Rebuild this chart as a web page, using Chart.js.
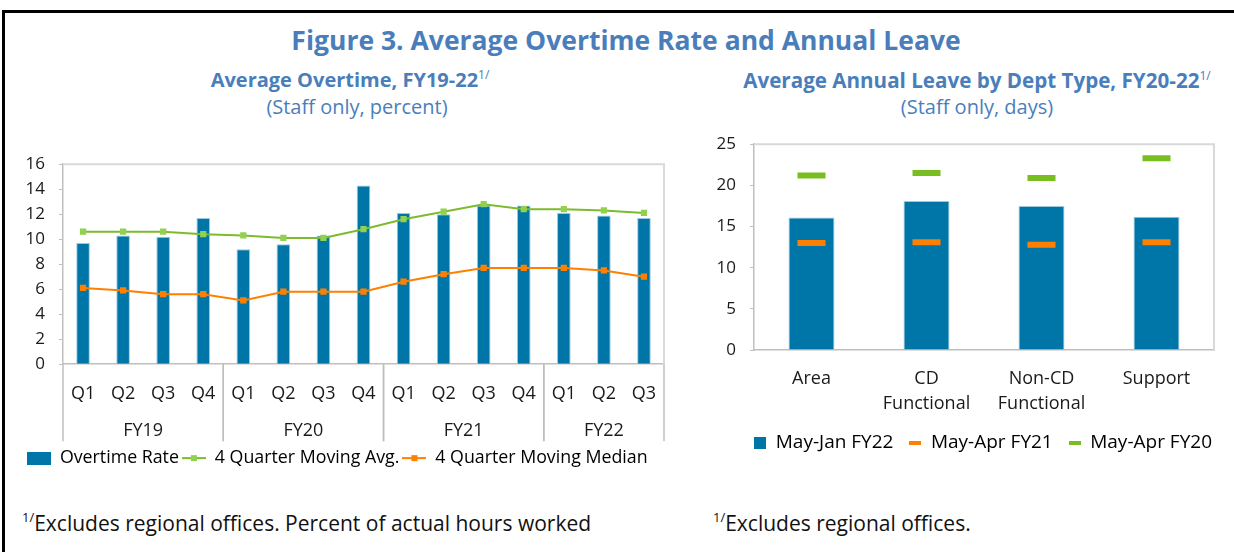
<!DOCTYPE html>
<html>
<head>
<meta charset="utf-8">
<script src="https://cdn.jsdelivr.net/npm/chart.js@4.4.1/dist/chart.umd.min.js"></script>
<style>
  body { margin: 0; width: 1234px; height: 552px; background: #fff; overflow: hidden; font-family: "Open Sans", sans-serif; position: relative; }
  .frame { position: absolute; left: 2px; top: 10px; width: 1240px; height: 560px; border-top: 3px solid #000; border-left: 3px solid #000; }
  .txt { position: absolute; text-align: center; color: #4a7ebb; white-space: nowrap; }
  .main { left: 0; width: 1252px; top: 22px; font-size: 26.5px; font-weight: bold; }
  .sub { font-size: 20px; font-weight: bold; top: 66px; }
  .unit { font-size: 20px; top: 93px; }
  sup { font-size: 12px; vertical-align: 8px; font-weight: normal; }
  .note { position: absolute; top: 508px; font-size: 21px; color: #111; white-space: nowrap; }
  .note sup { font-size: 13px; vertical-align: 9px; }
  .box { position: absolute; }
</style>
</head>
<body>
<div class="frame"></div>
<div class="txt main">Figure 3. Average Overtime Rate and Annual Leave</div>
<div class="txt sub" style="left:50px;width:600px;">Average Overtime, FY19-22<sup>1/</sup></div>
<div class="txt unit" style="left:57px;width:600px;">(Staff only, percent)</div>
<div class="txt sub" style="left:677px;width:600px;font-size:20.6px;">Average Annual Leave by Dept Type, FY20-22<sup>1/</sup></div>
<div class="txt unit" style="left:677px;width:600px;">(Staff only, days)</div>
<div class="box" style="left:20px;top:140px;"><canvas id="overtime" width="660" height="340"></canvas></div>
<div class="box" style="left:700px;top:120px;"><canvas id="leave" width="534" height="380"></canvas></div>
<div class="note" style="left:22px;"><sup>1/</sup>Excludes regional offices. Percent of actual hours worked</div>
<div class="note" style="left:713px;"><sup>1/</sup>Excludes regional offices.</div>
<script>
const quarters = ['Q1', 'Q2', 'Q3', 'Q4', 'Q1', 'Q2', 'Q3', 'Q4', 'Q1', 'Q2', 'Q3', 'Q4', 'Q1', 'Q2', 'Q3'];
const fiscalYears = ['FY19', 'FY20', 'FY21', 'FY22'];
const quartersPerYear = [4, 4, 4, 3];
const overtimeRate = [9.7, 10.3, 10.2, 11.7, 9.2, 9.6, 10.3, 14.3, 12.1, 12.0, 12.7, 12.7, 12.1, 11.9, 11.7];
const movingAvg = [10.6, 10.6, 10.6, 10.4, 10.3, 10.1, 10.1, 10.8, 11.6, 12.2, 12.8, 12.4, 12.4, 12.3, 12.1];
const movingMedian = [6.1, 5.9, 5.6, 5.6, 5.1, 5.8, 5.8, 5.8, 6.6, 7.2, 7.7, 7.7, 7.7, 7.5, 7.0];
const overtimeLegend = ['Overtime Rate', '4 Quarter Moving Avg.', '4 Quarter Moving Median'];

const deptTypes = [['Area'], ['CD', 'Functional'], ['Non-CD', 'Functional'], ['Support']];
const leaveFY22 = [16.1, 18.1, 17.5, 16.2];
const leaveFY21 = [13.0, 13.1, 12.8, 13.1];
const leaveFY20 = [21.2, 21.5, 20.9, 23.3];
const leaveLegend = ['May-Jan FY22', 'May-Apr FY21', 'May-Apr FY20'];

const blue = '#0076a8';
const orange = '#ff8000';
const greenLine = '#7cbc2c';
const greenMark = '#92d050';
const greenDash = '#78be20';
const axisGray = '#bfbfbf';
const font = "'Open Sans', sans-serif";

Chart.defaults.font.family = font;
Chart.defaults.font.size = 17;
Chart.defaults.color = '#1a1a1a';

// little legend icons
function barIcon(w, h, color) {
    const c = document.createElement('canvas');
    c.width = w; c.height = h;
    const g = c.getContext('2d');
    g.fillStyle = color;
    g.fillRect(0, 0, w, h);
    return c;
}
function lineIcon(w, lineColor, markColor) {
    const c = document.createElement('canvas');
    c.width = w; c.height = 8;
    const g = c.getContext('2d');
    g.strokeStyle = lineColor;
    g.lineWidth = 2;
    g.beginPath(); g.moveTo(0, 4); g.lineTo(w, 4); g.stroke();
    g.fillStyle = markColor;
    g.fillRect(w / 2 - 3, 1, 6, 6);
    return c;
}
function dashIcon(w, color) {
    const c = document.createElement('canvas');
    c.width = w; c.height = 4;
    const g = c.getContext('2d');
    g.fillStyle = color;
    g.fillRect(0, 0, w, 4);
    return c;
}

// light frame on top and right of the plot
const plotFrame = {
    id: 'plotFrame',
    beforeDatasetsDraw(chart) {
        const {ctx, chartArea: a} = chart;
        ctx.save();
        ctx.strokeStyle = '#d9d9d9';
        ctx.lineWidth = 2;
        ctx.beginPath();
        ctx.moveTo(a.left, a.top);
        ctx.lineTo(a.right, a.top);
        ctx.lineTo(a.right, a.bottom);
        ctx.stroke();
        ctx.restore();
    }
};

// second row of the category axis: fiscal years
const yearGroups = {
    id: 'yearGroups',
    afterDraw(chart) {
        const {ctx, chartArea: a} = chart;
        const x = chart.scales.x;
        const half = (x.getPixelForValue(1) - x.getPixelForValue(0)) / 2;
        ctx.save();
        ctx.strokeStyle = axisGray;
        ctx.lineWidth = 1.5;
        ctx.fillStyle = '#1a1a1a';
        ctx.font = `18px ${font}`;
        ctx.textAlign = 'center';
        ctx.textBaseline = 'middle';
        let start = 0;
        quartersPerYear.forEach((n, i) => {
            const l = x.getPixelForValue(start) - half;
            const r = x.getPixelForValue(start + n - 1) + half;
            for (const px of [l, r]) {
                ctx.beginPath();
                ctx.moveTo(px, a.bottom);
                ctx.lineTo(px, a.bottom + 77);
                ctx.stroke();
            }
            ctx.fillText(fiscalYears[i], (l + r) / 2, a.bottom + 67);
            start += n;
        });
        ctx.restore();
    }
};

new Chart(document.getElementById('overtime'), {
    type: 'bar',
    data: {
        labels: quarters,
        datasets: [
            {label: overtimeLegend[0], data: overtimeRate, backgroundColor: blue, borderColor: '#9cc9e0', borderWidth: 1, barPercentage: 0.34, categoryPercentage: 1, order: 2},
            {type: 'line', label: overtimeLegend[1], data: movingAvg, borderColor: greenLine, borderWidth: 2, pointStyle: 'rect', pointRadius: 4.4, pointBackgroundColor: greenMark, pointBorderWidth: 0, order: 1},
            {type: 'line', label: overtimeLegend[2], data: movingMedian, borderColor: orange, borderWidth: 2, pointStyle: 'rect', pointRadius: 4.4, pointBackgroundColor: orange, pointBorderWidth: 0, order: 0},
        ],
    },
    options: {
        responsive: false,
        animation: false,
        devicePixelRatio: 1,
        layout: {padding: {left: 4, right: 16, top: 22, bottom: 3}},
        plugins: {
            tooltip: {enabled: false},
            legend: {
                position: 'bottom',
                align: 'start',
                labels: {
                    usePointStyle: true,
                    pointStyleWidth: 24,
                    padding: 3,
                    font: {size: 17.8},
                    generateLabels: () => [
                        {text: overtimeLegend[0], pointStyle: barIcon(24, 13, blue), lineWidth: 0, hidden: false, datasetIndex: 0},
                        {text: overtimeLegend[1], pointStyle: lineIcon(24, greenLine, greenMark), lineWidth: 0, hidden: false, datasetIndex: 1},
                        {text: overtimeLegend[2], pointStyle: lineIcon(24, orange, orange), lineWidth: 0, hidden: false, datasetIndex: 2},
                    ],
                },
            },
        },
        scales: {
            x: {
                grid: {display: false, drawTicks: false},
                border: {color: axisGray, width: 1.5},
                ticks: {padding: 19, maxRotation: 0, autoSkip: false, font: {size: 18}},
                afterFit: s => { s.height = 82; },
            },
            y: {
                min: 0, max: 16,
                ticks: {stepSize: 2, padding: 14, autoSkip: false},
                grid: {drawOnChartArea: false, tickLength: 4, color: axisGray},
                border: {color: axisGray, width: 1.5},
                afterFit: s => { s.width = 39; },
            },
        },
    },
    plugins: [plotFrame, yearGroups],
});

new Chart(document.getElementById('leave'), {
    type: 'bar',
    data: {
        labels: deptTypes,
        datasets: [
            {label: leaveLegend[0], data: leaveFY22, backgroundColor: blue, borderColor: '#9cc9e0', borderWidth: 1, barPercentage: 0.4, categoryPercentage: 1, order: 2},
            {type: 'line', label: leaveLegend[1], data: leaveFY21, showLine: false, pointStyle: 'line', pointRadius: 14, pointBorderWidth: 6, pointBorderColor: orange, borderColor: orange, order: 1},
            {type: 'line', label: leaveLegend[2], data: leaveFY20, showLine: false, pointStyle: 'line', pointRadius: 14, pointBorderWidth: 6, pointBorderColor: greenDash, borderColor: greenDash, order: 0},
        ],
    },
    options: {
        responsive: false,
        animation: false,
        devicePixelRatio: 1,
        layout: {padding: {left: 0, right: 6, top: 14, bottom: 38}},
        plugins: {
            tooltip: {enabled: false},
            legend: {
                position: 'bottom',
                align: 'end',
                labels: {
                    usePointStyle: true,
                    pointStyleWidth: 12,
                    padding: 16,
                    font: {size: 19},
                    generateLabels: () => [
                        {text: leaveLegend[0], pointStyle: barIcon(12, 12, blue), lineWidth: 0, hidden: false, datasetIndex: 0},
                        {text: leaveLegend[1], pointStyle: dashIcon(12, orange), lineWidth: 0, hidden: false, datasetIndex: 1},
                        {text: leaveLegend[2], pointStyle: dashIcon(12, greenDash), lineWidth: 0, hidden: false, datasetIndex: 2},
                    ],
                },
            },
        },
        scales: {
            x: {
                grid: {display: false, drawTicks: false},
                border: {color: axisGray, width: 1.5},
                ticks: {padding: 16, maxRotation: 0, autoSkip: false, font: {size: 18, lineHeight: 1.42}},
                afterFit: s => { s.height = 67; },
            },
            y: {
                min: 0, max: 25,
                ticks: {stepSize: 5, padding: 14},
                grid: {drawOnChartArea: false, tickLength: 4, color: axisGray},
                border: {color: axisGray, width: 1.5},
                afterFit: s => { s.width = 54; },
            },
        },
    },
    plugins: [plotFrame],
});
</script>
</body>
</html>
